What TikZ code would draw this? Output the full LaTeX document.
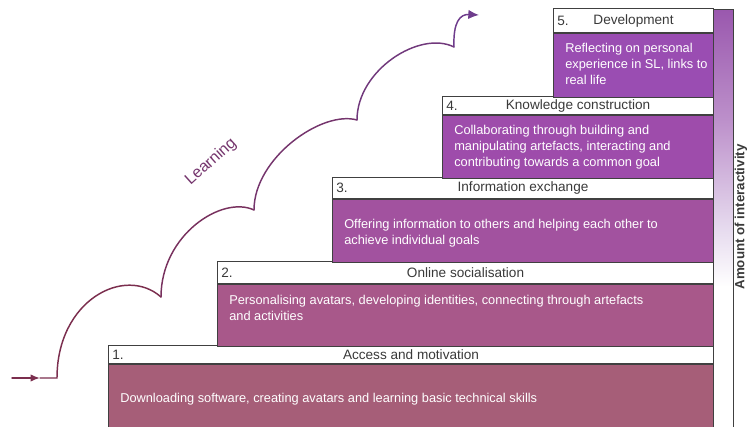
\documentclass[tikz,border=0pt]{standalone}
\usepackage{fontspec}
\setmainfont{Liberation Sans}
\usetikzlibrary{
	arrows.meta,
	positioning,
}
\definecolor{linegray}{HTML}{404040}
\definecolor{titlegray}{HTML}{3A3A3A}
\definecolor{stageone}{HTML}{A65E78}
\definecolor{stagetwo}{HTML}{A8588A}
\definecolor{stagethree}{HTML}{A2529F}
\definecolor{stagefour}{HTML}{9E4CAB}
\definecolor{stagefive}{HTML}{9A4DB2}
\definecolor{barpurple}{HTML}{9A58AE}
\definecolor{barmid}{HTML}{BC8FCA}
\definecolor{barlight}{HTML}{E6DAEE}
\definecolor{learnstart}{HTML}{7B2E4E}
\definecolor{learnend}{HTML}{6E3C8C}
\pgfdeclareverticalshading{barshade}{100bp}{
	color(0bp)=(white); color(25bp)=(white); color(42bp)=(white);
	color(49bp)=(barlight); color(62bp)=(barmid);
	color(75bp)=(barpurple); color(100bp)=(barpurple)}
\tikzset{header/.style={
	draw=linegray,
	fill=white,
	line width=0.8pt,
	anchor=north west,
	inner sep=0pt,
	text=titlegray,
	font=\fontsize{10.2}{12}\selectfont,
}}
\tikzset{number/.style={
	anchor=west,
	inner sep=0pt,
	xshift=3pt,
	text=titlegray,
	font=\fontsize{10.2}{12}\selectfont,
}}
\tikzset{body/.style={
	draw=linegray,
	line width=0.8pt,
	anchor=north west,
	inner sep=0pt,
}}
\tikzset{body text/.style={
	anchor=west,
	inner sep=0pt,
	align=left,
	text=white,
	font=\fontsize{9.6}{12}\selectfont,
}}
\tikzset{learn/.style={
	line width=1.1pt,
	line cap=round,
}}

\begin{document}
\begin{tikzpicture}[x=0.75pt,y=-0.75pt]
\useasboundingbox (0,0) rectangle (750,427);

% one stage: name, left, top, header bottom, body bottom, colour, title, text, text shift
\newcommand{\stage}[9]{
\node[header, minimum width={(713-#2)*0.75pt}, minimum height={(#4-#3)*0.75pt}]
	(h#1) at (#2,#3) {#7};
\node[number] (n#1) at (h#1.west) {#1.};
\node[body, fill=#6, minimum width={(713-#2)*0.75pt},
	minimum height={(#5-#4)*0.75pt}]
	(b#1) at (h#1.south west) {};
\node[body text] (t#1) at ([xshift=9pt, yshift={-(#9)*0.75pt}]b#1.west) {#8};
}

\stage{1}{108}{345}{363}{431}{stageone}{Access and motivation}
	{Downloading software, creating avatars and learning basic technical skills}{1}
\stage{2}{217}{261}{283}{345}{stagetwo}{Online socialisation}
	{Personalising avatars, developing identities, connecting through artefacts\\and activities}{-8}
\stage{3}{332}{177}{198}{261}{stagethree}{Information exchange}
	{Offering information to others and helping each other to\\achieve individual goals}{2}
\stage{4}{442}{96}{114}{177}{stagefour}{Knowledge construction}
	{Collaborating through building and\\manipulating artefacts, interacting and\\contributing towards a common goal}{0}
\stage{5}{553}{8}{32}{96}{stagefive}{Development}
	{Reflecting on personal\\experience in SL, links to\\real life}{-2}

% interactivity bar
\node[draw=linegray, line width=0.8pt, shading=barshade, anchor=north west,
	minimum width=15pt, minimum height={420*0.75pt}, inner sep=0pt]
	(bar) at (713,9) {};
\node[rotate=90, text=titlegray, font=\bfseries\fontsize{10}{12}\selectfont]
	(amount) at (741,217) {Amount of interactivity};

% learning arrow
\coordinate (l0) at (12,378);
\coordinate (lm) at (40,378);
\coordinate (c0) at (57,378);
\coordinate (c1) at (161,297);
\coordinate (c2) at (254,210);
\coordinate (c3) at (357,120);
\coordinate (c4) at (454,47);
\coordinate (tip) at (479,15);

\draw[learn, learnstart, -{Latex[length=7pt,width=5.5pt]}] (l0) -- (lm);
\draw[learn, learnstart] (lm) -- (c0)
	.. controls (57,300) and (125,265) .. (c1);
\draw[learn, learnstart!75!learnend] (c1)
	.. controls (161,235) and (222,195) .. (c2);
\draw[learn, learnstart!50!learnend] (c2)
	.. controls (254,158) and (322,110) .. (c3);
\draw[learn, learnstart!25!learnend] (c3)
	.. controls (357,70) and (420,30) .. (c4);
\draw[learn, learnend, -{Latex[length=8pt,width=7pt]}] (c4)
	.. controls (453,22) and (460,14) .. (tip);

\node[rotate=42, text=learnstart!50!learnend, font=\fontsize{12}{14}\selectfont]
	(learning) at (211,162) {Learning};

\end{tikzpicture}
\end{document}
